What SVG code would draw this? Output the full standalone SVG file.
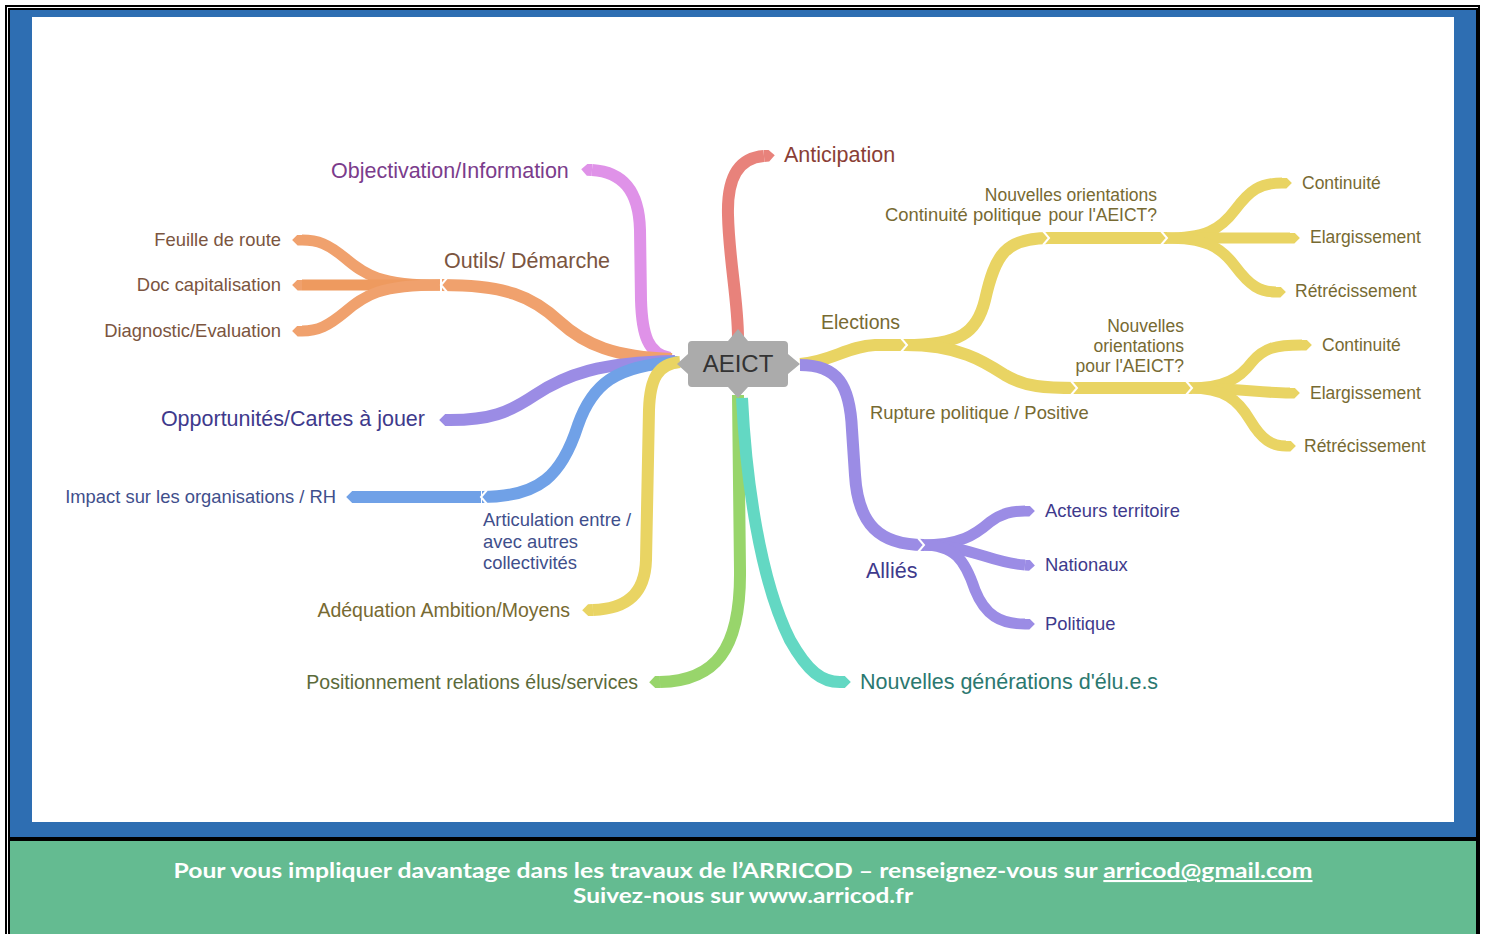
<svg xmlns="http://www.w3.org/2000/svg" width="1487" height="934" viewBox="0 0 1487 934">
<style>
.b{fill:none;stroke-width:12;stroke-linecap:butt;stroke-linejoin:round}
.s{stroke-width:11}
.pk{stroke:#df92e8}.rd{stroke:#e8827b}.or{stroke:#f0a16d}.pu{stroke:#9b8ce5}.bl{stroke:#70a1e7}.ye{stroke:#e9d463}.gr{stroke:#98d56b}.te{stroke:#63d8c3}
.chev{fill:none;stroke:#fff;stroke-width:2}
text{font-family:"Liberation Sans",Arial,sans-serif}
.t17{font-size:17.5px}.t18{font-size:18.4px}.t19{font-size:19.5px}.t21{font-size:21.5px}
.end{text-anchor:end}
.cPk{fill:#7b3c8c}.cRd{fill:#8a3e35}.cOr{fill:#7b5540}.cPu{fill:#3e3a8c}.cBl{fill:#3f4f8c}.cYe{fill:#776a32}.cGr{fill:#5b6a3a}.cTe{fill:#2b7870}
.foot{font-family:Lato,"Open Sans",sans-serif;font-weight:700;font-size:21px;fill:#fff;text-anchor:middle}
</style>
<defs>
<marker id="mPk" viewBox="0 0 10 10" refX="0" refY="5" markerWidth="1" markerHeight="1" orient="auto"><path d="M0,0 L4,0 L9,5 L4,10 L0,10Z" fill="#df92e8"/></marker>
<marker id="mRd" viewBox="0 0 10 10" refX="0" refY="5" markerWidth="1" markerHeight="1" orient="auto"><path d="M0,0 L4,0 L9,5 L4,10 L0,10Z" fill="#e8827b"/></marker>
<marker id="mOr" viewBox="0 0 10 10" refX="0" refY="5" markerWidth="1" markerHeight="1" orient="auto"><path d="M0,0 L4,0 L9,5 L4,10 L0,10Z" fill="#f0a16d"/></marker>
<marker id="mPu" viewBox="0 0 10 10" refX="0" refY="5" markerWidth="1" markerHeight="1" orient="auto"><path d="M0,0 L4,0 L9,5 L4,10 L0,10Z" fill="#9b8ce5"/></marker>
<marker id="mBl" viewBox="0 0 10 10" refX="0" refY="5" markerWidth="1" markerHeight="1" orient="auto"><path d="M0,0 L4,0 L9,5 L4,10 L0,10Z" fill="#70a1e7"/></marker>
<marker id="mYe" viewBox="0 0 10 10" refX="0" refY="5" markerWidth="1" markerHeight="1" orient="auto"><path d="M0,0 L4,0 L9,5 L4,10 L0,10Z" fill="#e9d463"/></marker>
<marker id="mGr" viewBox="0 0 10 10" refX="0" refY="5" markerWidth="1" markerHeight="1" orient="auto"><path d="M0,0 L4,0 L9,5 L4,10 L0,10Z" fill="#98d56b"/></marker>
<marker id="mTe" viewBox="0 0 10 10" refX="0" refY="5" markerWidth="1" markerHeight="1" orient="auto"><path d="M0,0 L4,0 L9,5 L4,10 L0,10Z" fill="#63d8c3"/></marker>
</defs>

<g id="frame">
<rect x="0" y="0" width="1487" height="934" fill="#fff"/>
<rect x="6" y="6" width="1473" height="940" fill="none" stroke="#000" stroke-width="2"/>
<rect x="9" y="9" width="1468" height="829" fill="#2e6eb2" stroke="#000" stroke-width="2"/>
<rect x="9" y="840" width="1468" height="100" fill="#64bb91" stroke="#000" stroke-width="2"/>
<rect x="32" y="17" width="1422" height="805" fill="#fff"/>
</g>

<g id="connectors">
<path class="b pk" d="M670,358 C648,354 642,335 641,300 L640,230 C639,190 622,172 592,170" marker-end="url(#mPk)"/>
<path class="b rd" d="M738,338 C738,300 729,260 728,215 C727,178 738,158 764,156" marker-end="url(#mRd)"/>
<path class="b or" d="M672,359 C615,357 585,345 560,322 C532,296 505,285 442,285"/>
<path class="b s or" d="M440,285 C380,285 365,275 345,258 C328,244 318,240 302,240" marker-end="url(#mOr)"/>
<path class="b s or" style="stroke:#ee9a5f" d="M440,285 L302,285" marker-end="url(#mOr)"/>
<path class="b s or" d="M440,285 C380,285 365,295 345,312 C328,326 318,331 302,331" marker-end="url(#mOr)"/>
<path class="b pu" d="M675,361 C600,362 565,375 535,395 C508,413 490,420 450,420" marker-end="url(#mPu)"/>
<path class="b bl" d="M678,362 C615,365 592,385 578,425 C562,475 540,497 482,497"/>
<path class="b bl" d="M481,497 L357,497" marker-end="url(#mBl)"/>
<path class="b ye" d="M680,362 C658,364 650,378 649,410 L646,560 C645,595 625,609 593,610" marker-end="url(#mYe)"/>
<path class="b gr" d="M738,395 L740,570 C741,650 715,681 660,682" marker-end="url(#mGr)"/>
<path class="b te" d="M742,398 C746,480 760,580 790,640 C808,672 822,682 840,682" marker-end="url(#mTe)"/>
<path class="b ye" d="M800,364 C830,362 848,346 875,345 L907,345"/>
<path class="b ye" d="M905,345 C960,345 977,333 985,300 C995,255 1005,238 1049,238"/>
<path class="b ye" d="M1047,238 L1167,238"/>
<path class="b s ye" d="M1165,238 C1205,238 1220,230 1235,210 C1250,190 1260,183 1282,183" marker-end="url(#mYe)"/>
<path class="b s ye" d="M1165,238 L1290,238" marker-end="url(#mYe)"/>
<path class="b s ye" d="M1165,238 C1205,238 1220,246 1235,266 C1250,286 1260,292 1276,292" marker-end="url(#mYe)"/>
<path class="b ye" d="M905,345 C960,345 985,362 1005,375 C1025,387 1045,388 1077,388"/>
<path class="b ye" d="M1075,388 L1192,388"/>
<path class="b s ye" d="M1190,388 C1225,388 1240,378 1252,362 C1264,348 1275,345 1302,345" marker-end="url(#mYe)"/>
<path class="b s ye" d="M1190,388 C1240,388 1260,393 1290,393" marker-end="url(#mYe)"/>
<path class="b s ye" d="M1190,388 C1225,388 1238,400 1250,420 C1262,440 1272,446 1286,446" marker-end="url(#mYe)"/>
<path class="b pu" d="M800,365 C838,365 850,385 852,430 L855,475 C858,525 880,545 924,545"/>
<path class="b s pu" d="M922,545 C960,545 975,535 990,522 C1002,513 1012,511 1025,511" marker-end="url(#mPu)"/>
<path class="b s pu" d="M922,545 C970,545 990,563 1025,565" marker-end="url(#mPu)"/>
<path class="b s pu" d="M922,545 C955,545 965,560 975,590 C985,615 1000,624 1025,624" marker-end="url(#mPu)"/>
<polyline class="chev" points="447,278 441,285 447,292"/>
<polyline class="chev" points="487,490 481,497 487,504"/>
<polyline class="chev" points="901,338 907,345 901,352"/>
<polyline class="chev" points="1043,231 1049,238 1043,245"/>
<polyline class="chev" points="1161,231 1167,238 1161,245"/>
<polyline class="chev" points="1071,381 1077,388 1071,395"/>
<polyline class="chev" points="1186,381 1192,388 1186,395"/>
<polyline class="chev" points="918,538 924,545 918,552"/>
</g>

<g id="n-center">
<path d="M692,341 L728,341 L738,329 L748,341 L784,341 Q788,341 788,345 L788,354 L800,364 L788,374 L788,383 Q788,387 784,387 L748,387 L738,398 L728,387 L692,387 Q688,387 688,383 L688,374 L677,364 L688,354 L688,345 Q688,341 692,341Z" fill="#ababab"/>
<text x="738" y="372" text-anchor="middle" font-size="24" fill="#333">AEICT</text>
</g>
<g id="n-objectivation"><text class="t21 cPk" x="331" y="178">Objectivation/Information</text></g>
<g id="n-anticipation"><text class="t21 cRd" x="784" y="162">Anticipation</text></g>
<g id="n-outils"><text class="t21 cOr" x="444" y="268">Outils/ Démarche</text></g>
<g id="n-feuille"><text class="t18 cOr end" x="281" y="246">Feuille de route</text></g>
<g id="n-doc"><text class="t18 cOr end" x="281" y="291">Doc capitalisation</text></g>
<g id="n-diagnostic"><text class="t18 cOr end" x="281" y="337">Diagnostic/Evaluation</text></g>
<g id="n-opportunites"><text class="t21 cPu end" x="425" y="426">Opportunités/Cartes à jouer</text></g>
<g id="n-impact"><text class="t18 cBl end" x="336" y="503">Impact sur les organisations / RH</text></g>
<g id="n-articulation"><text class="t18 cBl" x="483" y="526">Articulation entre /</text><text class="t18 cBl" x="483" y="548">avec autres</text><text class="t18 cBl" x="483" y="569">collectivités</text></g>
<g id="n-adequation"><text class="t19 cYe end" x="570" y="617">Adéquation Ambition/Moyens</text></g>
<g id="n-positionnement"><text class="t19 cGr end" x="638" y="689">Positionnement relations élus/services</text></g>
<g id="n-generations"><text class="t21 cTe" x="860" y="689">Nouvelles générations d'élu.e.s</text></g>
<g id="n-elections"><text class="t19 cYe" x="821" y="329">Elections</text></g>
<g id="n-continuite-pol"><text class="t18 cYe" x="885" y="221">Continuité politique</text></g>
<g id="n-orient1"><text class="t17 cYe end" x="1157" y="201">Nouvelles orientations</text><text class="t17 cYe end" x="1157" y="221">pour l'AEICT?</text></g>
<g id="n-c1"><text class="t17 cYe" x="1302" y="189">Continuité</text></g>
<g id="n-e1"><text class="t17 cYe" x="1310" y="243">Elargissement</text></g>
<g id="n-r1"><text class="t17 cYe" x="1295" y="297">Rétrécissement</text></g>
<g id="n-rupture"><text class="t18 cYe" x="870" y="419">Rupture politique / Positive</text></g>
<g id="n-orient2"><text class="t17 cYe end" x="1184" y="332">Nouvelles</text><text class="t17 cYe end" x="1184" y="352">orientations</text><text class="t17 cYe end" x="1184" y="372">pour l'AEICT?</text></g>
<g id="n-c2"><text class="t17 cYe" x="1322" y="351">Continuité</text></g>
<g id="n-e2"><text class="t17 cYe" x="1310" y="399">Elargissement</text></g>
<g id="n-r2"><text class="t17 cYe" x="1304" y="452">Rétrécissement</text></g>
<g id="n-allies"><text class="t21 cPu" x="866" y="578">Alliés</text></g>
<g id="n-acteurs"><text class="t18 cPu" x="1045" y="517">Acteurs territoire</text></g>
<g id="n-nationaux"><text class="t18 cPu" x="1045" y="571">Nationaux</text></g>
<g id="n-politique"><text class="t18 cPu" x="1045" y="630">Politique</text></g>

<g id="footer">
<text class="foot" x="743" y="878" textLength="1139" lengthAdjust="spacingAndGlyphs">Pour vous impliquer davantage dans les travaux de l’ARRICOD – renseignez-vous sur <tspan text-decoration="underline">arricod@gmail.com</tspan></text>
<text class="foot" x="743" y="903" textLength="340" lengthAdjust="spacingAndGlyphs">Suivez-nous sur www.arricod.fr</text>
</g>
</svg>
